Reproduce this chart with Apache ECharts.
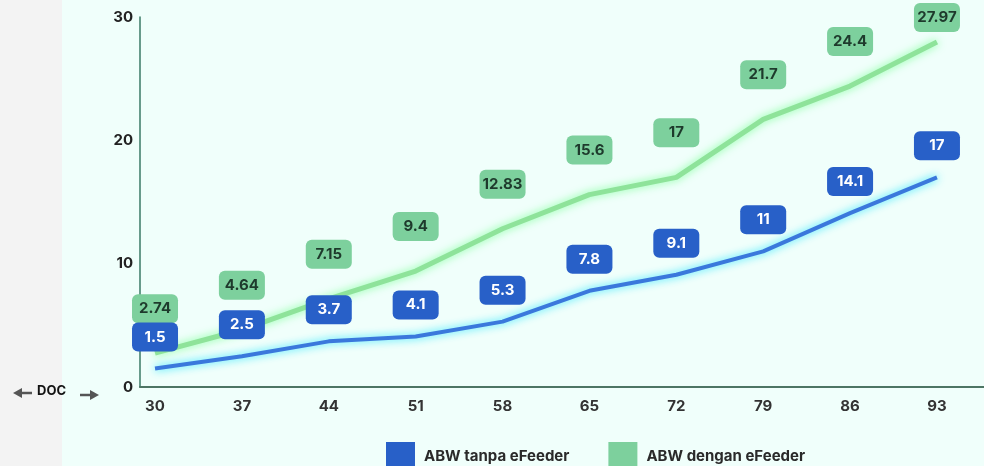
<!DOCTYPE html>
<html>
<head>
<meta charset="utf-8">
<script src="https://cdn.jsdelivr.net/npm/echarts@6/dist/echarts.min.js"></script>
<style>
html,body{margin:0;padding:0;background:#f0fffb;}
#c{width:984px;height:466px;}
</style>
</head>
<body>
<div id="c"></div>
<script>
var days = [30, 37, 44, 51, 58, 65, 72, 79, 86, 93];
var abwTanpa = [1.5, 2.5, 3.7, 4.1, 5.3, 7.8, 9.1, 11, 14.1, 17];
var abwDengan = [2.74, 4.64, 7.15, 9.4, 12.83, 15.6, 17, 21.7, 24.4, 27.97];
var yTicks = [0, 10, 20, 30];
var seriesNames = ['ABW tanpa eFeeder', 'ABW dengan eFeeder'];

function pairs(vals) { return days.map(function (d, i) { return [d, vals[i]]; }); }

var font = 'Inter, "Noto Sans", sans-serif';
var chart = echarts.init(document.getElementById('c'));

function badge(bg, fg, dist) {
  return {
    show: true, position: 'top', distance: dist,
    formatter: function (p) { return String(p.value[1]); },
    backgroundColor: bg, color: fg, borderRadius: 6,
    width: 46, lineHeight: 17, padding: [6, 0, 6, 0], align: 'center',
    fontFamily: font, fontSize: 15, fontWeight: 'bold'
  };
}

function keepInside(params) {
  var r = params.labelRect;
  if (r.y < 3) { return { dy: 3 - r.y }; }
  return {};
}

chart.setOption({
  backgroundColor: '#f0fffb',
  animation: false,
  grid: { left: 140, right: 0, top: 17, bottom: 79 },
  graphic: [
    { type: 'rect', left: 0, top: 0, z: -10, shape: { width: 62, height: 466 }, style: { fill: '#f3f3f3' } },
    { type: 'line', shape: { x1: 18, y1: 393, x2: 32, y2: 393 }, style: { stroke: '#555', lineWidth: 2.5 } },
    { type: 'polygon', shape: { points: [[13, 393], [22, 388], [22, 398]] }, style: { fill: '#555' } },
    { type: 'text', left: 37, top: 385, style: { text: 'DOC', font: 'bold 13px ' + font, fill: '#111' } },
    { type: 'line', shape: { x1: 80, y1: 395, x2: 94, y2: 395 }, style: { stroke: '#555', lineWidth: 2.5 } },
    { type: 'polygon', shape: { points: [[99, 395], [90, 390], [90, 400]] }, style: { fill: '#555' } }
  ],
  legend: {
    left: 381, top: 437, itemWidth: 29, itemHeight: 28, itemGap: 39, icon: 'rect',
    textStyle: { fontFamily: font, fontSize: 15, fontWeight: 'bold', color: '#2a2a2a', padding: [0, 0, 0, 4] },
    data: [
      { name: seriesNames[0], itemStyle: { color: '#2860c8' } },
      { name: seriesNames[1], itemStyle: { color: '#7dd09d' } }
    ]
  },
  xAxis: {
    type: 'value', min: 28.79, max: 96.79,
    splitLine: { show: false },
    axisLine: { show: true, lineStyle: { color: '#4d7564', width: 2 } },
    axisTick: { show: false },
    axisLabel: {
      customValues: days, margin: 12,
      fontFamily: font, fontSize: 15, fontWeight: 'bold', color: '#333'
    }
  },
  yAxis: {
    type: 'value', min: 0, max: 30, interval: 10,
    splitLine: { show: false },
    axisLine: { show: true, lineStyle: { color: '#3b7a66', width: 1.5 } },
    axisTick: { show: false },
    axisLabel: {
      customValues: yTicks, margin: 7,
      fontFamily: font, fontSize: 15, fontWeight: 'bold', color: '#222'
    }
  },
  series: [
    {
      name: seriesNames[0], type: 'line', data: pairs(abwTanpa),
      showSymbol: true, symbol: 'circle', symbolSize: 0,
      itemStyle: { color: '#2860c8' },
      lineStyle: { color: '#3a78dc', width: 4, shadowBlur: 8, shadowColor: 'rgba(0,225,255,0.85)' },
      label: badge('#2860c8', '#ffffff', 17), labelLayout: keepInside, z: 3
    },
    {
      name: seriesNames[1], type: 'line', data: pairs(abwDengan),
      showSymbol: true, symbol: 'circle', symbolSize: 0,
      itemStyle: { color: '#7dd09d' },
      lineStyle: { color: '#8ee39a', width: 5, shadowBlur: 8, shadowColor: 'rgba(110,255,140,0.85)' },
      label: badge('#7dd09d', '#1e3a2c', 30), labelLayout: keepInside, z: 2
    }
  ]
});
</script>
</body>
</html>
